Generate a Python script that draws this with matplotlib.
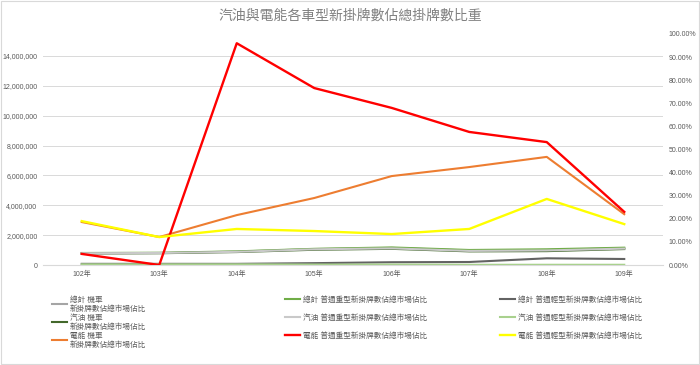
import numpy as np
import matplotlib
matplotlib.use("Agg")
import matplotlib.pyplot as plt
from matplotlib.patches import Rectangle
from matplotlib.ticker import FuncFormatter, MultipleLocator

plt.rcParams['font.family'] = ['Liberation Sans', 'Noto Sans CJK TC', 'DejaVu Sans']

# 年度
years = ["102年", "103年", "104年", "105年", "106年", "107年", "108年", "109年"]

# 各車型新掛牌數佔總市場佔比 (%)
total_moto = [5.1, 5.2, 5.8, 6.9, 7.4, 6.3, 6.5, 7.3]
total_heavy = [5.2, 5.3, 5.9, 7.0, 7.6, 6.5, 6.8, 7.5]
total_light = [0.5, 0.5, 0.5, 0.8, 1.2, 1.3, 2.9, 2.6]
gas_moto = [5.0, 5.1, 5.6, 6.6, 7.0, 5.9, 6.0, 6.9]
gas_heavy = [5.1, 5.2, 5.7, 6.8, 7.2, 6.1, 6.3, 7.1]
gas_light = [0.3, 0.3, 0.3, 0.2, 0.2, 0.1, 0.1, 0.1]
ev_moto = [18.6, 12.1, 21.6, 29.0, 38.5, 42.4, 46.8, 22.0]
ev_heavy = [4.8, 0.0, 96.0, 76.6, 68.0, 57.6, 53.2, 23.0]
ev_light = [19.0, 12.1, 15.6, 14.7, 13.4, 15.6, 28.6, 17.7]

series = [
    ("總計 機車\n新掛牌數佔總市場佔比", total_moto, "#A5A5A5", 1.5),
    ("總計 普通重型新掛牌數佔總市場佔比", total_heavy, "#70AD47", 1.5),
    ("總計 普通輕型新掛牌數佔總市場佔比", total_light, "#636363", 1.5),
    ("汽油 機車\n新掛牌數佔總市場佔比", gas_moto, "#43682B", 1.5),
    ("汽油 普通重型新掛牌數佔總市場佔比", gas_heavy, "#C9C9C9", 1.5),
    ("汽油 普通輕型新掛牌數佔總市場佔比", gas_light, "#A9D18E", 1.5),
    ("電能 機車\n新掛牌數佔總市場佔比", ev_moto, "#ED7D31", 1.5),
    ("電能 普通重型新掛牌數佔總市場佔比", ev_heavy, "#FF0000", 1.7),
    ("電能 普通輕型新掛牌數佔總市場佔比", ev_light, "#FFFF00", 1.7),
]

text_color = "#595959"
grid_color = "#D9D9D9"

fig = plt.figure(figsize=(7, 3.65), dpi=100)
fig.patches.append(Rectangle((0.001, 0.002), 0.997, 0.995, transform=fig.transFigure,
                             fill=False, edgecolor="#D9D9D9", linewidth=0.8))

ax = fig.add_axes([43 / 700, 1 - 265 / 365, 620 / 700, 231 / 365])
ax2 = ax.twinx()

x = np.arange(len(years))
handles = []
for label, vals, color, lw in series:
    ln, = ax2.plot(x, np.array(vals) / 100, color=color, linewidth=lw, label=label)
    handles.append(ln)

# 左軸 (數量)
ax.set_xlim(-0.5, len(years) - 0.5)
ax.set_ylim(0, 15_470_000)
ax.yaxis.set_major_locator(MultipleLocator(2_000_000))
ax.yaxis.set_major_formatter(FuncFormatter(lambda v, p: f"{v:,.0f}" if v <= 14_000_000 else ""))
ax.grid(axis="y", color=grid_color, linewidth=0.7)
ax.set_axisbelow(True)

# 右軸 (百分比)
ax2.set_ylim(0, 1.0)
ax2.yaxis.set_major_locator(MultipleLocator(0.1))
ax2.yaxis.set_major_formatter(FuncFormatter(lambda v, p: f"{v * 100:.2f}%"))

ax.set_xticks(x)
ax.set_xticklabels(years)
for a in (ax, ax2):
    for s in a.spines.values():
        s.set_visible(False)
    a.tick_params(length=0, labelsize=5, labelcolor=text_color)
ax.spines["bottom"].set_visible(True)
ax.spines["bottom"].set_color(grid_color)
ax.tick_params(axis="x", pad=4)
ax.tick_params(axis="y", pad=4)
ax2.tick_params(axis="y", pad=4)

fig.text(0.5, 1 - 16 / 365, "汽油與電能各車型新掛牌數佔總掛牌數比重",
         ha="center", va="center", fontsize=10, color="#808080")

# 圖例: 三欄
col_x = [52 / 700, 285 / 700, 500 / 700]
for i in range(3):
    hs = handles[i::3]
    fig.legend(handles=hs, labels=[h.get_label() for h in hs],
               loc="upper left", bbox_to_anchor=(col_x[i], 1 - 296 / 365),
               frameon=False, fontsize=5.5, handlelength=2.0, handletextpad=0.3,
               labelspacing=0.25 if i == 0 else 1.35, labelcolor=text_color,
               borderaxespad=0, borderpad=0)

fig.savefig("out.png", dpi=100)
